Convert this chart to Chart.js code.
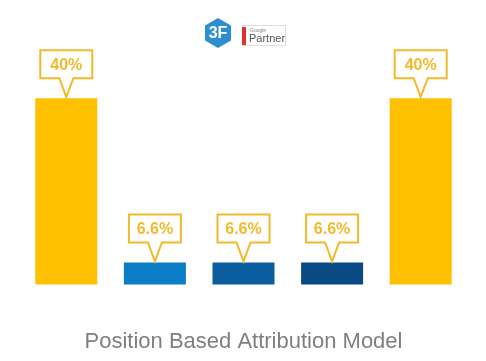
<!DOCTYPE html>
<html>
<head>
<meta charset="utf-8">
<script src="https://cdn.jsdelivr.net/npm/chart.js@4"></script>
<style>
  html, body { margin: 0; padding: 0; background: #fff; }
  #wrap { position: relative; width: 486px; height: 361px; }
</style>
</head>
<body>
<div id="wrap"><canvas id="chart" width="486" height="361"></canvas></div>
<script>
// Data
const positions = ["First touch", "Middle 1", "Middle 2", "Middle 3", "Last touch"];
const credit = [40, 6.6, 6.6, 6.6, 40];
const creditLabels = ["40%", "6.6%", "6.6%", "6.6%", "40%"];
const barColors = ["#FFC000", "#0B7CC6", "#0A5E9F", "#0A4A84", "#FFC000"];

const GOLD = "#F2B92A";
const FONT = "'Liberation Sans', Arial, sans-serif";

// callout bubbles above each bar
const calloutPlugin = {
    id: "callouts",
    afterDatasetsDraw(chart) {
        const ctx = chart.ctx;
        const meta = chart.getDatasetMeta(0);
        ctx.save();
        meta.data.forEach((bar, i) => {
            const cx = bar.x, tipY = bar.y - 1;
            const w = 52, h = 28, gap = 19, half = 7;
            const top = tipY - gap - h, left = cx - w / 2;
            ctx.beginPath();
            ctx.moveTo(left, top);
            ctx.lineTo(left + w, top);
            ctx.lineTo(left + w, top + h);
            ctx.lineTo(cx + half, top + h);
            ctx.lineTo(cx, tipY);
            ctx.lineTo(cx - half, top + h);
            ctx.lineTo(left, top + h);
            ctx.closePath();
            ctx.fillStyle = "#fff";
            ctx.fill();
            ctx.lineWidth = 2;
            ctx.strokeStyle = GOLD;
            ctx.stroke();
            ctx.fillStyle = GOLD;
            ctx.font = "bold 16px " + FONT;
            ctx.textAlign = "center";
            ctx.textBaseline = "middle";
            ctx.fillText(creditLabels[i], cx, top + h / 2 + 1);
        });
        ctx.restore();
    }
};

// partner badge at the top
const logoPlugin = {
    id: "logo",
    afterDraw(chart) {
        const ctx = chart.ctx;
        ctx.save();
        // hexagon
        const hx = 218, hy = 33, r = 15;
        ctx.beginPath();
        for (let k = 0; k < 6; k++) {
            const a = Math.PI / 180 * (60 * k - 90);
            const px = hx + r * Math.cos(a), py = hy + r * Math.sin(a);
            if (k === 0) ctx.moveTo(px, py); else ctx.lineTo(px, py);
        }
        ctx.closePath();
        ctx.fillStyle = "#2E8FD0";
        ctx.fill();
        ctx.fillStyle = "#fff";
        ctx.font = "bold 16px " + FONT;
        ctx.textAlign = "center";
        ctx.textBaseline = "middle";
        ctx.fillText("3F", hx, hy + 1);
        // google partner box
        ctx.strokeStyle = "#ddd";
        ctx.lineWidth = 1;
        ctx.strokeRect(242.5, 25.5, 43, 20);
        ctx.fillStyle = "#E0312B";
        ctx.fillRect(242, 27, 4, 18);
        ctx.textAlign = "left";
        ctx.textBaseline = "alphabetic";
        ctx.fillStyle = "#888";
        ctx.font = "5px " + FONT;
        ctx.fillText("Google", 250, 32);
        ctx.fillStyle = "#555";
        ctx.font = "11px " + FONT;
        ctx.fillText("Partner", 249, 42);
        ctx.restore();
    }
};

new Chart(document.getElementById("chart").getContext("2d"), {
    type: "bar",
    data: {
        labels: positions,
        datasets: [{
            data: credit,
            backgroundColor: barColors,
            borderWidth: 0,
            categoryPercentage: 1,
            barPercentage: 0.7
        }]
    },
    options: {
        responsive: false,
        animation: false,
        events: [],
        layout: { padding: { left: 22, right: 21, top: 49, bottom: 0 } },
        plugins: {
            legend: { display: false },
            tooltip: { enabled: false },
            title: {
                display: true,
                position: "bottom",
                text: "Position Based Attribution Model",
                color: "#7F7F7F",
                font: { family: FONT, size: 22, weight: "normal" },
                padding: { top: 44, bottom: 6 }
            }
        },
        scales: {
            x: { display: false },
            y: { display: false, min: 2.1, max: 50 }
        }
    },
    plugins: [calloutPlugin, logoPlugin]
});
</script>
</body>
</html>
